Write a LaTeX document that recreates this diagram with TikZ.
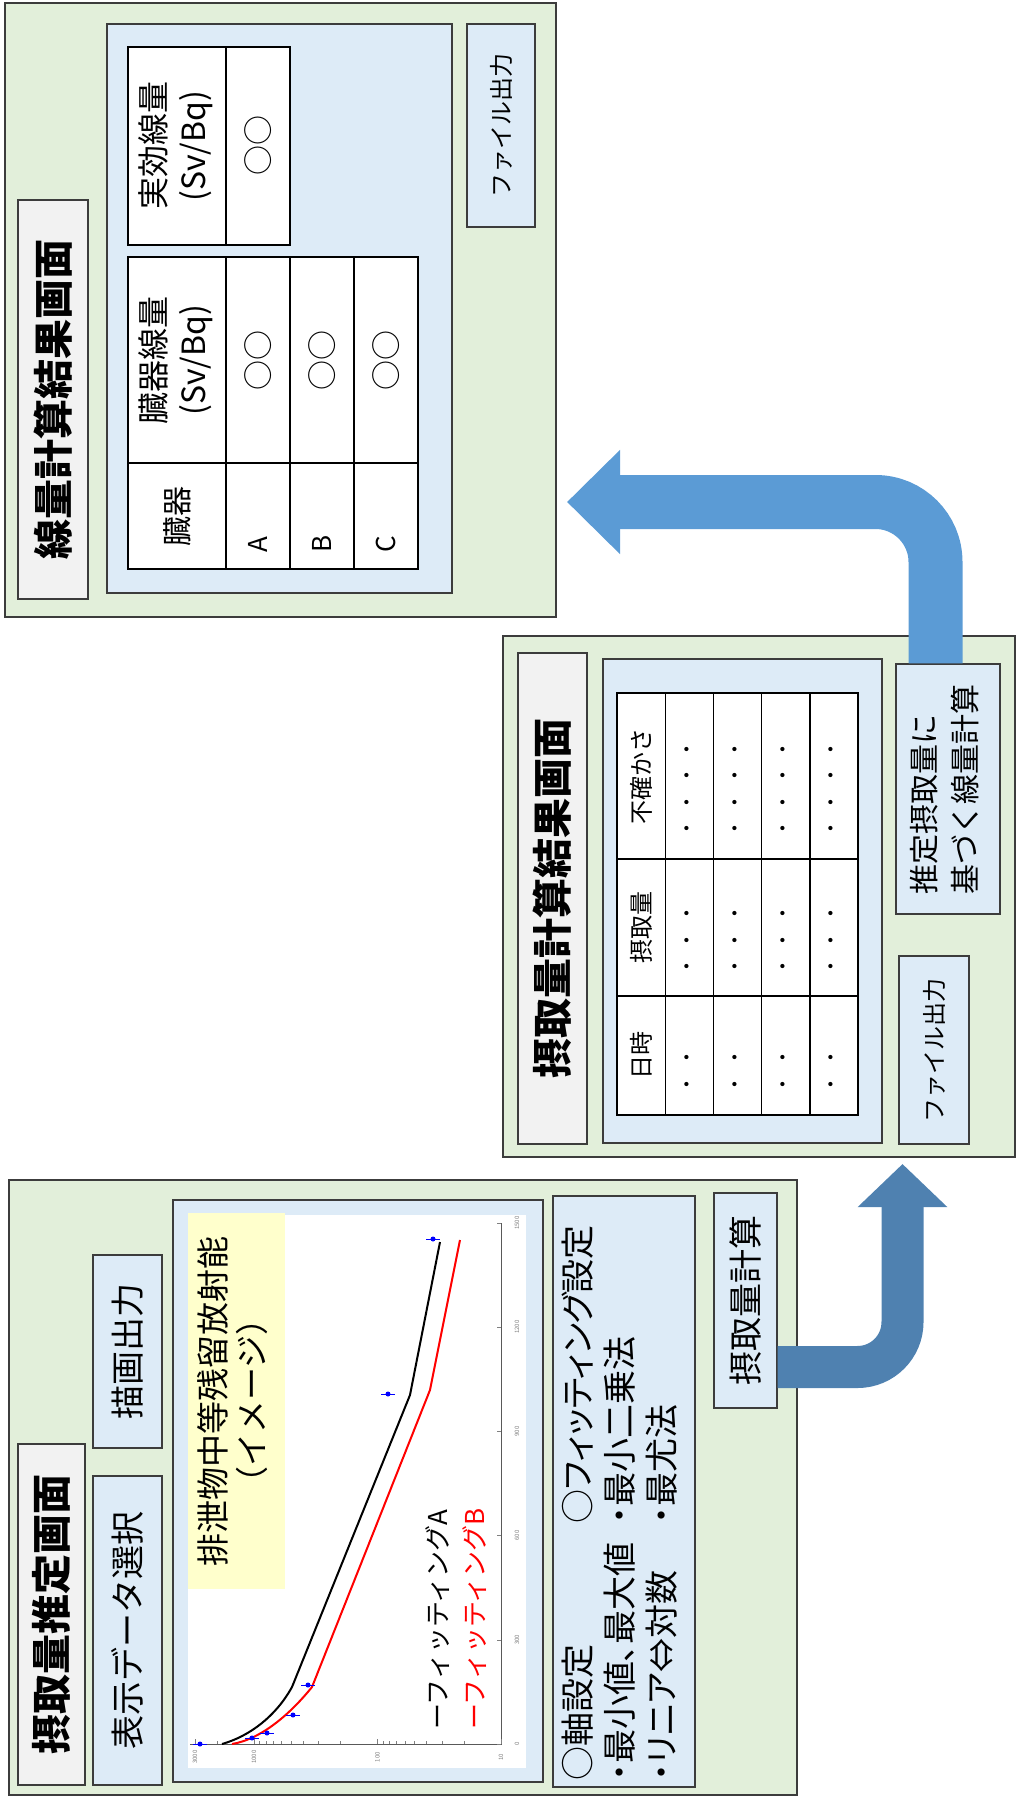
\documentclass[tikz,border=0pt]{standalone}
\usepackage{fontspec}
\setmainfont{Noto Sans CJK JP}
\usepackage{graphicx}
\usepackage{tikz}
\usetikzlibrary{arrows.meta, calc}
\definecolor{panelgreen}{RGB}{226,239,218}
\definecolor{boxblue}{RGB}{221,235,247}
\definecolor{titlegray}{RGB}{242,242,242}
\definecolor{frame}{RGB}{60,60,60}
\definecolor{arrowdark}{RGB}{79,129,176}
\definecolor{arrowlight}{RGB}{91,155,213}
\definecolor{notebg}{RGB}{255,255,204}

\begin{document}
\begin{tikzpicture}[x=1pt, y=-1pt,
    panel/.style={draw=frame, line width=1.6pt, fill=panelgreen, inner sep=0pt},
    titlebox/.style={draw=frame, line width=1.4pt, fill=titlegray, inner sep=0pt, font=\fontsize{40}{48}\selectfont\bfseries},
    bluebox/.style={draw=frame, line width=1.4pt, fill=boxblue, inner sep=0pt},
    cell/.style={draw=black, line width=1.4pt, fill=white, inner sep=0pt},
    vtext/.style={rotate=90, inner sep=0pt},
    tick label/.style={rotate=90, inner sep=0pt, font=\fontsize{6}{6}\selectfont, text=gray}]
\useasboundingbox (0,0) rectangle (1017,1798);

% 線量計算結果画面
\node[panel, minimum width=551pt, minimum height=614pt] (dosepanel) at (280.5,310) {};
\node[titlebox, minimum width=70pt, minimum height=399pt] (dosetitle) at (53,399.5) {\rotatebox{90}{線量計算結果画面}};
\node[bluebox, minimum width=345pt, minimum height=569pt] (dosearea) at (279.5,308.5) {};
\node[bluebox, minimum width=68pt, minimum height=203pt, font=\fontsize{24}{28}\selectfont] (dosefile) at (501,125.5) {\rotatebox{90}{ファイル出力}};
\node[cell, minimum width=98pt, minimum height=198pt, font=\fontsize{32}{40}\selectfont] (effhead) at (177,146) {\rotatebox{90}{\begin{tabular}{@{}c@{}}実効線量\\(Sv/Bq)\end{tabular}}};
\node[cell, minimum width=64pt, minimum height=198pt, font=\fontsize{30}{36}\selectfont] (effval) at (258,146) {\rotatebox{90}{○○}};
\node[cell, minimum width=98pt, minimum height=206pt, font=\fontsize{32}{40}\selectfont] (orghead) at (177,360) {\rotatebox{90}{\begin{tabular}{@{}c@{}}臓器線量\\(Sv/Bq)\end{tabular}}};
\node[cell, minimum width=98pt, minimum height=106pt, font=\fontsize{30}{36}\selectfont] (orgname) at (177,516) {\rotatebox{90}{臓器}};
\foreach \org [count=\i] in {A,B,C} {
    \node[cell, minimum width=64pt, minimum height=206pt, font=\fontsize{30}{36}\selectfont] (orgval\i) at ({194+64*\i},360) {\rotatebox{90}{○○}};
    \node[cell, minimum width=64pt, minimum height=106pt] (orgcell\i) at ({194+64*\i},516) {};
    \node[vtext, anchor=west, font=\fontsize{26}{30}\selectfont] (orglabel\i) at ({194+64*\i},553) {\org};
}

% 摂取量計算結果画面
\node[panel, minimum width=512pt, minimum height=521pt] (intakepanel) at (759,896.5) {};
\node[titlebox, minimum width=69pt, minimum height=491pt] (intaketitle) at (552.5,898.5) {\rotatebox{90}{摂取量計算結果画面}};
\node[bluebox, minimum width=279pt, minimum height=484pt] (intakearea) at (742.5,901) {};
\foreach \yc/\hh/\hdr/\dd/\dy [count=\j] in {776/166pt/不確かさ/{・\kern6.5pt・\kern6.5pt・\kern6.5pt・}/789, 927.5/137pt/摂取量/{・\kern6.5pt・\kern6.5pt・}/940, 1055.5/119pt/日時/{・\kern6.5pt・}/1071} {
    \node[cell, minimum width=48.2pt, minimum height=\hh, font=\fontsize{24}{28}\selectfont] (head\j) at (641.1,\yc) {\rotatebox{90}{\hdr}};
    \foreach \r in {1,...,4} {
        \node[cell, minimum width=48.2pt, minimum height=\hh] (row\j\r) at ({641.1+48.2*\r},\yc) {};
        \node[vtext, font=\fontsize{20}{24}\selectfont] (dot\j\r) at ({641.1+48.2*\r},\dy) {\dd};
    }
}
\node[bluebox, minimum width=104pt, minimum height=250pt, font=\fontsize{30}{41}\selectfont] (dosecalc) at (948,789) {\rotatebox{90}{\begin{tabular}{@{}l@{}}推定摂取量に\\基づく線量計算\end{tabular}}};
\node[bluebox, minimum width=70pt, minimum height=188pt, font=\fontsize{24}{28}\selectfont] (intakefile) at (934,1050) {\rotatebox{90}{ファイル出力}};

% 摂取量推定画面
\node[panel, minimum width=788pt, minimum height=615pt] (estpanel) at (403,1487.5) {};
\node[titlebox, minimum width=67pt, minimum height=341pt] (esttitle) at (51.5,1614.5) {\rotatebox{90}{摂取量推定画面}};
\node[bluebox, minimum width=69pt, minimum height=309pt, font=\fontsize{34}{40}\selectfont] (datasel) at (127.5,1630.5) {\rotatebox{90}{表示データ選択}};
\node[bluebox, minimum width=69pt, minimum height=193pt, font=\fontsize{34}{40}\selectfont] (plotout) at (127.5,1351.5) {\rotatebox{90}{描画出力}};
\node[bluebox, minimum width=370pt, minimum height=582pt] (graphbox) at (358,1491) {};
\node[fill=white, minimum width=338pt, minimum height=553pt, inner sep=0pt] (plotarea) at (357,1491.5) {};
\node[fill=notebg, minimum width=97pt, minimum height=376pt, inner sep=0pt, font=\fontsize{33}{38}\selectfont] (notebox) at (236.5,1401) {\rotatebox{90}{\begin{tabular}{@{}c@{}}排泄物中等残留放射能\\（イメージ）\end{tabular}}};
% axes
\draw[gray!70!black, line width=1pt] (501,1223) -- (501,1744) -- (190,1744);
\foreach \t in {0,300,...,1500} {
    \draw[gray] (501,{1744-0.3473*\t}) -- ++(-4,0);
    \node[tick label] (tt\t) at (517,{1744-0.3473*\t}) {\t};
}
\foreach \v in {20,30,...,90,200,300,...,900,2000}
    \draw[gray] ({501-123.5*(log10(\v)-1)},1744) -- ++(0,-3);
\foreach \v in {10,100,1000,3000} {
    \draw[gray] ({501-123.5*(log10(\v)-1)},1744) -- ++(0,-5);
    \node[tick label] (tv\v) at ({501-123.5*(log10(\v)-1)},1757) {\v};
}
% fitting curves
\draw[black, line width=2pt] (222,1744) .. controls (250,1736) and (276,1716) .. (292,1687) -- (410,1395) -- (440,1242);
\draw[red, line width=2pt] (232,1744) .. controls (262,1739) and (291,1713) .. (312,1687) -- (430,1390) -- (460,1240);
\foreach \px/\py in {200/1744, 252/1738, 267/1733, 293/1715, 308/1685, 388/1394, 433/1239} {
    \draw[blue, line width=1pt] (\px-7,\py) -- (\px+7,\py);
    \fill[blue] (\px,\py) circle (2.5pt);
}
\node[vtext, anchor=west, font=\fontsize{26}{30}\selectfont] (fitA) at (438,1730) {ーフィッティングA};
\node[vtext, anchor=west, font=\fontsize{26}{30}\selectfont, text=red] (fitB) at (475,1730) {ーフィッティングB};
% settings
\node[bluebox, minimum width=142pt, minimum height=591pt] (axisbox) at (624,1491.5) {};
\node[vtext, anchor=north west, align=left, font=\fontsize{34}{42}\selectfont\addfontfeatures{RawFeature=+palt}] (axistext) at (562,1781) {○軸設定\\・最小値、最大値\\・リニア⇔対数};
\node[vtext, anchor=north west, align=left, font=\fontsize{34}{42}\selectfont\addfontfeatures{RawFeature=+palt}] (fittext) at (562,1524) {○フィッティング設定\\・最小二乗法\\・最尤法};
\node[bluebox, minimum width=63pt, minimum height=215pt, font=\fontsize{34}{40}\selectfont] (calcbtn) at (745.5,1300.5) {\rotatebox{90}{摂取量計算}};

% arrows
\coordinate (tipA) at (902.5,1164);
\coordinate (tipB) at (567,502);
\draw[arrowdark, line width=42pt, rounded corners=45pt, -{Triangle[length=43pt, width=87pt]}] ([yshift=-66.5pt]calcbtn.east) -| (tipA);
\draw[arrowlight, line width=54pt, rounded corners=60pt, -{Triangle[length=53pt, width=101pt]}] ([xshift=-12.5pt]dosecalc.north) |- (tipB);
\end{tikzpicture}
\end{document}
